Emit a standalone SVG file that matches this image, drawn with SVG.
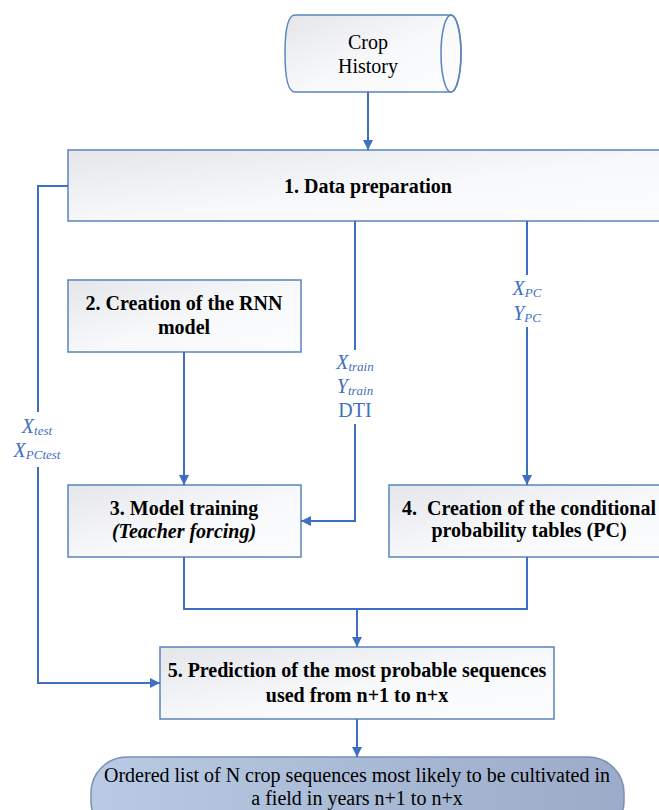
<svg xmlns="http://www.w3.org/2000/svg" width="659" height="810" viewBox="0 0 659 810" font-family="Liberation Serif, Times New Roman, serif">
<defs>
<linearGradient id="boxfill" x1="0" y1="0" x2="1" y2="1">
<stop offset="0" stop-color="#e4e6ea"/>
<stop offset="0.55" stop-color="#f7f9fb"/>
<stop offset="1" stop-color="#fbfdff"/>
</linearGradient>
<linearGradient id="ovalfill" x1="0" y1="0" x2="1" y2="0">
<stop offset="0" stop-color="#b8cae4"/>
<stop offset="1" stop-color="#9babc8"/>
</linearGradient>
<marker id="arr" viewBox="0 0 10 10" refX="10" refY="5" markerWidth="10" markerHeight="10" markerUnits="userSpaceOnUse" orient="auto">
<path d="M0,0 L10,5 L0,10 z" fill="#3f6fc2"/>
</marker>
<style>
.box{fill:url(#boxfill);stroke:#5a84bd;stroke-width:1.5}
.t{font-size:20px;fill:#000;text-anchor:middle}
.b{font-weight:bold}
.lbl{font-size:20px;fill:#3f6fc2;text-anchor:middle}
.i{font-style:italic}
.sub{font-size:13px}
.c{fill:none;stroke:#3f6fc2;stroke-width:2}
</style>
</defs>

<g id="crop-history">
<path d="M295,15 L451,15 A10,38.5 0 0 1 451,92 L295,92 Q285,92 285,53.5 Q285,15 295,15 z" class="box"/>
<ellipse cx="451" cy="53.5" rx="10" ry="38.5" fill="none" stroke="#5a84bd" stroke-width="1.5"/>
<text class="t" x="368" y="49" font-family="Liberation Serif">Crop</text>
<text class="t" x="368" y="73" font-family="Liberation Serif">History</text>
</g>

<g id="n1">
<rect class="box" x="68" y="150" width="610" height="71"/>
<text class="t b" x="368" y="193" font-family="Liberation Serif">1. Data preparation</text>
</g>

<g id="n2">
<rect class="box" x="68" y="280" width="233" height="72"/>
<text class="t b" x="184" y="310" font-family="Liberation Serif">2. Creation of the RNN</text>
<text class="t b" x="184" y="334" font-family="Liberation Serif">model</text>
</g>

<g id="n3">
<rect class="box" x="68" y="485" width="233" height="72"/>
<text class="t b" x="184" y="515" font-family="Liberation Serif">3. Model training</text>
<text class="t b i" x="184" y="538" font-family="Liberation Serif">(Teacher forcing)</text>
</g>

<g id="n4">
<rect class="box" x="389" y="485" width="290" height="72"/>
<text class="t b" x="529" y="515" font-family="Liberation Serif" style="white-space:pre">4.  Creation of the conditional</text>
<text class="t b" x="529" y="537" font-family="Liberation Serif">probability tables (PC)</text>
</g>

<g id="n5">
<rect class="box" x="160" y="647" width="394" height="72"/>
<text class="t b" x="357" y="677" font-family="Liberation Serif">5. Prediction of the most probable sequences</text>
<text class="t b" x="357" y="702" font-family="Liberation Serif">used from n+1 to n+x</text>
</g>

<g id="output">
<rect x="91" y="757" width="533" height="80" rx="36" ry="36" fill="url(#ovalfill)" stroke="#7b8fb6" stroke-width="1.5"/>
<text class="t" x="357" y="782" font-family="Liberation Serif">Ordered list of N crop sequences most likely to be cultivated in</text>
<text class="t" x="357" y="805" font-family="Liberation Serif">a field in years n+1 to n+x</text>
</g>

<g id="connectors">
<line class="c" x1="368" y1="92" x2="368" y2="150" marker-end="url(#arr)"/>
<polyline class="c" points="68,186 38,186 38,412"/>
<polyline class="c" points="38,467 38,683 160,683" marker-end="url(#arr)"/>
<line class="c" x1="355" y1="221" x2="355" y2="350"/>
<polyline class="c" points="355,424 355,521 301,521" marker-end="url(#arr)"/>
<line class="c" x1="527" y1="221" x2="527" y2="275"/>
<line class="c" x1="527" y1="327" x2="527" y2="485" marker-end="url(#arr)"/>
<line class="c" x1="184" y1="352" x2="184" y2="485" marker-end="url(#arr)"/>
<polyline class="c" points="184,557 184,609 527,609 527,557"/>
<line class="c" x1="357" y1="609" x2="357" y2="647" marker-end="url(#arr)"/>
<line class="c" x1="357" y1="719" x2="357" y2="757" marker-end="url(#arr)"/>
<text class="lbl" x="355" y="369" font-family="Liberation Serif"><tspan class="i">X</tspan><tspan class="i sub" dy="2">train</tspan></text>
<text class="lbl" x="355" y="393" font-family="Liberation Serif"><tspan class="i">Y</tspan><tspan class="i sub" dy="2">train</tspan></text>
<text class="lbl" x="355" y="417" font-family="Liberation Serif">DTI</text>
<text class="lbl" x="37" y="433" font-family="Liberation Serif"><tspan class="i">X</tspan><tspan class="i sub" dy="2">test</tspan></text>
<text class="lbl" x="37" y="457" font-family="Liberation Serif"><tspan class="i">X</tspan><tspan class="i sub" dy="2">PCtest</tspan></text>
<text class="lbl" x="527" y="295" font-family="Liberation Serif"><tspan class="i">X</tspan><tspan class="i sub" dy="2">PC</tspan></text>
<text class="lbl" x="527" y="320" font-family="Liberation Serif"><tspan class="i">Y</tspan><tspan class="i sub" dy="2">PC</tspan></text>
</g>
</svg>
